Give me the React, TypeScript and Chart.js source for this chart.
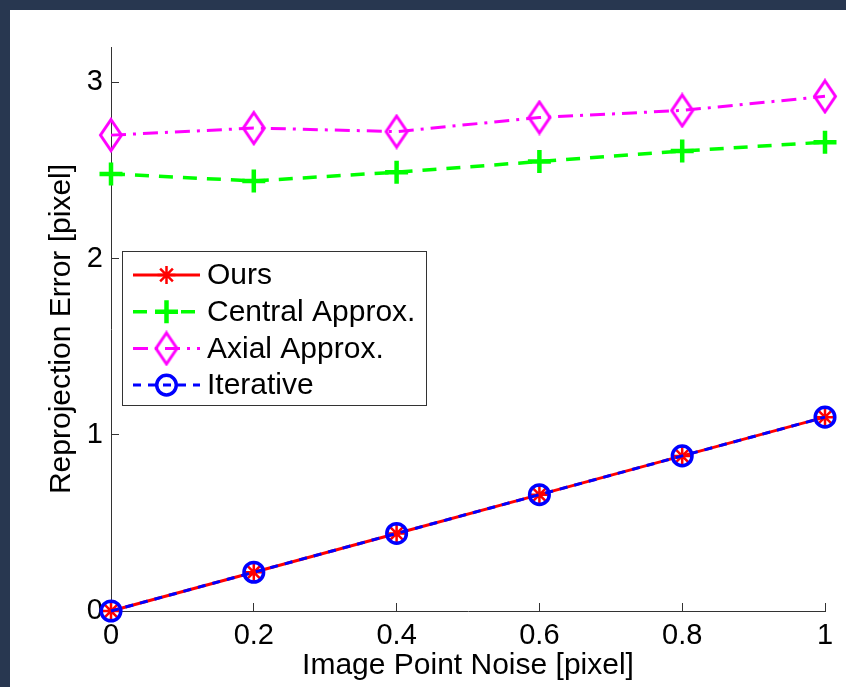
import React, { useEffect, useRef } from 'react';
import { Chart, registerables } from 'chart.js';

Chart.register(...registerables);

const noise = [0, 0.2, 0.4, 0.6, 0.8, 1];
const ours = [0, 0.22, 0.44, 0.66, 0.88, 1.1];
const central = [2.48, 2.44, 2.49, 2.55, 2.61, 2.66];
const axial = [2.7, 2.74, 2.72, 2.8, 2.84, 2.92];
const iterative = [0, 0.22, 0.44, 0.66, 0.88, 1.1];

const xTicks = [0, 0.2, 0.4, 0.6, 0.8, 1];
const xTickLabels = ['0', '0.2', '0.4', '0.6', '0.8', '1'];
const yTicks = [0, 1, 2, 3];
const yTickLabels = ['0', '1', '2', '3'];
const seriesNames = ['Ours', 'Central Approx.', 'Axial Approx.', 'Iterative'];

const FONT = '"Liberation Sans", Arial, Helvetica, sans-serif';
const RED = '#ff0000';
const GREEN = '#00ff00';
const MAGENTA = '#ff00ff';
const BLUE = '#0000ff';
const AXIS = '#333333';

function makeDiamond(color: string): HTMLCanvasElement {
  const c = document.createElement('canvas');
  c.width = 26;
  c.height = 36;
  const g = c.getContext('2d')!;
  g.strokeStyle = color;
  g.lineWidth = 3;
  g.lineJoin = 'miter';
  g.beginPath();
  g.moveTo(13, 2.5);
  g.lineTo(23.5, 18);
  g.lineTo(13, 33.5);
  g.lineTo(2.5, 18);
  g.closePath();
  g.stroke();
  return c;
}

function drawMarker(ctx: CanvasRenderingContext2D, kind: string, x: number, y: number, diamond: HTMLCanvasElement) {
  ctx.save();
  ctx.setLineDash([]);
  if (kind === 'star') {
    ctx.strokeStyle = RED;
    ctx.lineWidth = 2.5;
    const r = 9;
    ctx.beginPath();
    for (let k = 0; k < 4; k++) {
      const a = (k * Math.PI) / 4;
      ctx.moveTo(x - Math.cos(a) * r, y - Math.sin(a) * r);
      ctx.lineTo(x + Math.cos(a) * r, y + Math.sin(a) * r);
    }
    ctx.stroke();
  } else if (kind === 'cross') {
    ctx.strokeStyle = GREEN;
    ctx.lineWidth = 4.5;
    const r = 11.5;
    ctx.beginPath();
    ctx.moveTo(x - r, y);
    ctx.lineTo(x + r, y);
    ctx.moveTo(x, y - r);
    ctx.lineTo(x, y + r);
    ctx.stroke();
  } else if (kind === 'diamond') {
    ctx.drawImage(diamond, x - diamond.width / 2, y - diamond.height / 2);
  } else if (kind === 'circle') {
    ctx.strokeStyle = BLUE;
    ctx.lineWidth = 3.5;
    ctx.beginPath();
    ctx.arc(x, y, 9.8, 0, Math.PI * 2);
    ctx.stroke();
  }
  ctx.restore();
}

export default function App() {
  const ref = useRef<HTMLCanvasElement | null>(null);

  useEffect(() => {
    if (!ref.current) return;
    const diamond = makeDiamond(MAGENTA);

    const legendItems = [
      { name: seriesNames[0], color: RED, dash: [] as number[], width: 3, marker: 'star' },
      { name: seriesNames[1], color: GREEN, dash: [14, 10], width: 3.5, marker: 'cross' },
      { name: seriesNames[2], color: MAGENTA, dash: [15, 7, 3, 7], width: 3, marker: 'diamond' },
      { name: seriesNames[3], color: BLUE, dash: [8, 7], width: 3, marker: 'circle' },
    ];

    const legendPlugin = {
      id: 'boxLegend',
      afterDraw(chart: any) {
        const ctx: CanvasRenderingContext2D = chart.ctx;
        const left = 112.5;
        const top = 241.5;
        const right = 416.5;
        const bottom = 395.5;
        ctx.save();
        ctx.fillStyle = '#ffffff';
        ctx.fillRect(left, top, right - left, bottom - top);
        ctx.strokeStyle = AXIS;
        ctx.lineWidth = 1;
        ctx.strokeRect(left, top, right - left, bottom - top);
        const rowY0 = 265;
        const rowStep = 36.7;
        legendItems.forEach((it, i) => {
          const y = rowY0 + rowStep * i;
          ctx.save();
          ctx.strokeStyle = it.color;
          ctx.lineWidth = it.width;
          ctx.setLineDash(it.dash);
          ctx.beginPath();
          ctx.moveTo(123, y);
          ctx.lineTo(190, y);
          ctx.stroke();
          ctx.restore();
          drawMarker(ctx, it.marker, 156.5, y, diamond);
          ctx.fillStyle = '#000000';
          ctx.font = `30px ${FONT}`;
          ctx.textBaseline = 'middle';
          ctx.textAlign = 'left';
          ctx.fillText(it.name, 197, y + 1);
        });
        ctx.restore();
      },
    };

    const toPts = (ys: number[]) => noise.map((x, i) => ({ x, y: ys[i] }));

    const chart = new Chart(ref.current, {
      type: 'line',
      data: {
        datasets: [
          {
            label: seriesNames[0],
            data: toPts(ours),
            borderColor: RED,
            borderWidth: 3,
            pointStyle: 'star',
            pointRadius: 9,
            pointBorderWidth: 2.5,
            pointBorderColor: RED,
            pointBackgroundColor: 'rgba(0,0,0,0)',
            order: 4,
            clip: false,
          },
          {
            label: seriesNames[1],
            data: toPts(central),
            borderColor: GREEN,
            borderWidth: 3.5,
            borderDash: [14, 10],
            pointStyle: 'cross',
            pointRadius: 11.5,
            pointBorderWidth: 4.5,
            pointBorderColor: GREEN,
            pointBackgroundColor: 'rgba(0,0,0,0)',
            order: 3,
            clip: false,
          },
          {
            label: seriesNames[2],
            data: toPts(axial),
            borderColor: MAGENTA,
            borderWidth: 3,
            borderDash: [15, 7, 3, 7],
            pointStyle: diamond,
            pointRadius: 12,
            order: 2,
            clip: false,
          },
          {
            label: seriesNames[3],
            data: toPts(iterative),
            borderColor: BLUE,
            borderWidth: 3,
            borderDash: [8, 7],
            pointStyle: 'circle',
            pointRadius: 9.8,
            pointBorderWidth: 3.5,
            pointBorderColor: BLUE,
            pointBackgroundColor: 'rgba(0,0,0,0)',
            order: 1,
            clip: false,
          },
        ] as any,
      },
      options: {
        animation: false,
        responsive: false,
        devicePixelRatio: 1,
        layout: { padding: { top: 37, right: 21, bottom: 0, left: 0 } },
        plugins: {
          legend: { display: false },
          tooltip: { enabled: false },
        },
        elements: { line: { tension: 0 } },
        scales: {
          x: {
            type: 'linear',
            position: 'bottom',
            min: 0,
            max: 1,
            afterBuildTicks: (s: any) => {
              s.ticks = xTicks.map((v) => ({ value: v }));
            },
            afterFit: (s: any) => {
              s.height = 76;
              s.paddingLeft = 0;
              s.paddingRight = 0;
            },
            ticks: {
              font: { family: FONT, size: 29 },
              color: '#000000',
              padding: 16,
              maxRotation: 0,
              autoSkip: false,
              callback: (_v: any, i: number) => xTickLabels[i],
            },
            grid: {
              display: true,
              drawOnChartArea: false,
              drawTicks: true,
              tickLength: -8,
              color: AXIS,
              lineWidth: 1,
            },
            border: { display: true, color: AXIS, width: 1 },
            title: {
              display: true,
              text: 'Image Point Noise [pixel]',
              font: { family: FONT, size: 30 },
              color: '#000000',
              padding: { top: 0, bottom: 3 },
            },
          },
          y: {
            type: 'linear',
            min: 0,
            max: 3.2,
            afterBuildTicks: (s: any) => {
              s.ticks = yTicks.map((v) => ({ value: v }));
            },
            afterFit: (s: any) => {
              s.width = 101;
              s.paddingTop = 0;
              s.paddingBottom = 0;
            },
            ticks: {
              font: { family: FONT, size: 29 },
              color: '#000000',
              padding: 16,
              autoSkip: false,
              callback: (_v: any, i: number) => yTickLabels[i],
            },
            grid: {
              display: true,
              drawOnChartArea: false,
              drawTicks: true,
              tickLength: -8,
              color: AXIS,
              lineWidth: 1,
            },
            border: { display: true, color: AXIS, width: 1 },
            title: {
              display: true,
              text: 'Reprojection Error [pixel]',
              font: { family: FONT, size: 30 },
              color: '#000000',
              padding: { top: 34, bottom: 0 },
            },
          },
        },
      } as any,
      plugins: [legendPlugin],
    });

    return () => chart.destroy();
  }, []);

  return (
    <div
      style={{
        position: 'fixed',
        left: 0,
        top: 0,
        width: 846,
        height: 687,
        background: '#283750',
        overflow: 'hidden',
      }}
    >
      <div
        style={{
          position: 'absolute',
          left: 10,
          top: 10,
          width: 836,
          height: 677,
          background: '#ffffff',
        }}
      >
        <canvas ref={ref} width={836} height={677} style={{ display: 'block', width: 836, height: 677 }} />
      </div>
    </div>
  );
}
